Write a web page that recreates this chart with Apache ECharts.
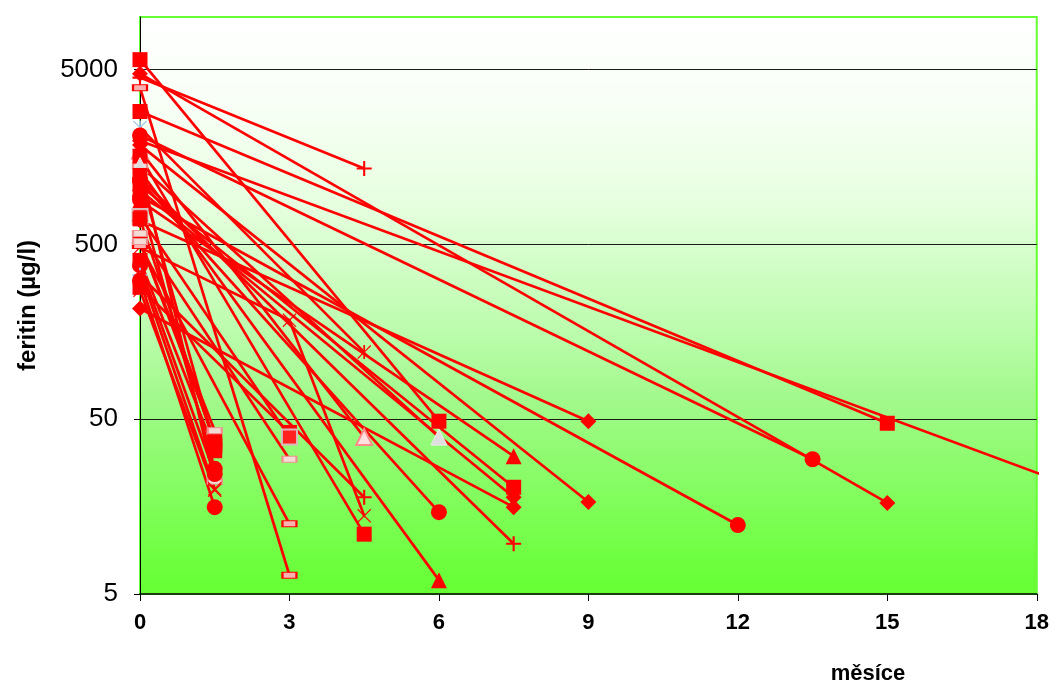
<!DOCTYPE html>
<html>
<head>
<meta charset="utf-8">
<script src="https://cdn.jsdelivr.net/npm/echarts@6/dist/echarts.min.js"></script>
<style>
html,body{margin:0;padding:0;background:#ffffff;}
#chart{width:1052px;height:684px;}
</style>
</head>
<body>
<div id="chart"></div>
<script>
// ---- data (ferritin µg/l, months) ----
const xTickMonths = [0, 3, 6, 9, 12, 15, 18];
const yTickLabels = [5, 50, 500, 5000];
const startFerritin = [5700, 4740, 4500, 3940, 2880, 2330, 1960, 2100, 1720, 1410, 284, 527, 1090, 940, 890, 723, 578, 481, 686, 1850, 405, 379, 333, 215, 1320, 311, 273, 1600, 1410, 1160, 1020, 1200, 493, 1240, 520, 700, 900, 350];
const midMonth      = [null, null, null, null, null, null, null, null, null, null, null, null, null, null, null, null, null, 3, null, null, null, null, null, null, null, null, null, null, null, null, null, null, null, null, null, null, null, null];
const midFerritin   = [null, null, null, null, null, null, null, null, null, null, null, null, null, null, null, null, null, 184, null, null, null, null, null, null, null, null, null, null, null, null, null, null, null, null, null, null, null, null];
const endMonth      = [6, 15, 4.5, 3, 15, 4.5, 21, 13.5, 4.5, 1.5, 3, 1.5, 7.5, 12, 7.5, 3, 3, 4.5, 9, 9, 1.5, 1.5, 4.5, 7.5, 6, 1.5, 1.5, 4.5, 6, 6, 7.5, 7.5, 3, 1.5, 1.5, 1.5, 1.5, 1.5];
const endFerritin   = [48.7, 16.6, 1360, 6.4, 47.4, 121, 11.9, 29.5, 39.5, 22.1, 42, 38, 20.4, 12.4, 30.7, 39.5, 29.5, 14, 48.7, 16.8, 33, 24.3, 17.9, 15.7, 6.0, 15.7, 19.6, 11, 39.5, 14.7, 17.9, 9.7, 12.6, 35, 43, 36, 26, 20];

// ---- styles (marker kinds per series) ----
const markerKinds = ['rect','diamond','plus','dash','rect','star','diamond','circle','paletri','paledash','rect','rect','rect','circle','triangle','paleRect','paledash','x','diamond','diamond','rect','circle','plus','diamond','triangle','circle','x','rect','greytri','circle','diamond','plus','dash','rect','paledash','rect','circle','x'];
const startPaleBlue = [5, 22];

const RED = '#ff0000';
const PLUS = 'path://M4.3,0H5.7V4.3H10V5.7H5.7V10H4.3V5.7H0V4.3H4.3Z';
const XMARK = 'path://M0.6,0L5,4.4L9.4,0L10,0.6L5.6,5L10,9.4L9.4,10L5,5.6L0.6,10L0,9.4L4.4,5L0,0.6Z';
const STAR = 'path://M0.6,0L4.4,3.8V0H5.6V3.8L9.4,0L10,0.6L5.6,5L10,9.4L9.4,10L5.6,6.2V10H4.4V6.2L0.6,10L0,9.4L4.4,5L0,0.6Z';

function markerStyle(kind) {
  switch (kind) {
    case 'rect': return {symbol: 'rect', symbolSize: 15, itemStyle: {color: RED}};
    case 'diamond': return {symbol: 'diamond', symbolSize: 16, itemStyle: {color: RED}};
    case 'triangle': return {symbol: 'triangle', symbolSize: 16, itemStyle: {color: RED}};
    case 'circle': return {symbol: 'circle', symbolSize: 16, itemStyle: {color: RED}};
    case 'plus': return {symbol: PLUS, symbolSize: 15, itemStyle: {color: RED}};
    case 'x': return {symbol: XMARK, symbolSize: 14, itemStyle: {color: RED}};
    case 'star': return {symbol: STAR, symbolSize: 14, itemStyle: {color: RED}};
    case 'dash': return {symbol: 'rect', symbolSize: [14, 6], itemStyle: {color: '#ffb0b0', borderColor: RED, borderWidth: 1.5}};
    case 'paledash': return {symbol: 'rect', symbolSize: [14, 6], itemStyle: {color: '#f3dcd6', borderColor: '#f09090', borderWidth: 1.5}};
    case 'paletri': return {symbol: 'triangle', symbolSize: 16, itemStyle: {color: '#fde0e0', borderColor: '#ff8a8a', borderWidth: 2}};
    case 'greytri': return {symbol: 'triangle', symbolSize: 16, itemStyle: {color: '#dedede', borderColor: '#ececec', borderWidth: 1}};
    case 'paleRect': return {symbol: 'rect', symbolSize: 15, itemStyle: {color: '#ff2020', borderColor: '#d9b9b9', borderWidth: 2}};
  }
  return {symbol: 'none'};
}

const toAxis = v => Math.log10(v / 5);

const series = startFerritin.map((s, i) => {
  const startPoint = {value: [0, toAxis(s)]};
  if (startPaleBlue.includes(i)) {
    startPoint.itemStyle = {color: '#9fc5e8'};
  }
  const pts = [startPoint];
  if (midMonth[i] !== null) pts.push({value: [midMonth[i], toAxis(midFerritin[i])]});
  pts.push({value: [endMonth[i], toAxis(endFerritin[i])]});
  const m = markerStyle(markerKinds[i]);
  return Object.assign({
    type: 'line',
    data: pts,
    clip: true,
    showAllSymbol: true,
    lineStyle: {color: RED, width: 2.7},
    emphasis: {disabled: true},
    z: 3
  }, m);
});

const chart = echarts.init(document.getElementById('chart'), null, {renderer: 'canvas'});
chart.setOption({
  animation: false,
  backgroundColor: '#ffffff',
  grid: {
    left: 140, right: 15, top: 17, bottom: 90,
    show: true,
    borderColor: '#66ff33',
    borderWidth: 2,
    backgroundColor: new echarts.graphic.LinearGradient(0, 0, 0, 1, [
      {offset: 0, color: '#ffffff'},
      {offset: 0.15, color: '#f8fff6'},
      {offset: 0.32, color: '#e7ffe0'},
      {offset: 0.54, color: '#bdfcae'},
      {offset: 0.66, color: '#a2f98c'},
      {offset: 0.94, color: '#6eff40'},
      {offset: 1, color: '#66ff33'}
    ])
  },
  xAxis: {
    type: 'value',
    min: xTickMonths[0],
    max: xTickMonths[xTickMonths.length - 1],
    interval: 3,
    axisLine: {show: true, onZero: false, lineStyle: {color: '#000000', width: 1.5}},
    axisTick: {show: true, inside: false, length: 7, lineStyle: {color: '#000000', width: 1}},
    axisLabel: {
      margin: 18,
      fontFamily: 'Liberation Sans, Arial, sans-serif',
      fontWeight: 'bold',
      fontSize: 22,
      color: '#000000',
      formatter: v => xTickMonths.includes(v) ? String(v) : ''
    },
    splitLine: {show: false}
  },
  yAxis: {
    type: 'value',
    min: 0,
    max: toAxis(10000),
    interval: 1,
    name: 'feritin (µg/l)',
    nameLocation: 'middle',
    nameGap: 100,
    nameTextStyle: {
      fontFamily: 'Liberation Sans, Arial, sans-serif',
      fontWeight: 'bold',
      fontSize: 24,
      color: '#000000'
    },
    axisLine: {show: true, onZero: false, lineStyle: {color: '#000000', width: 1}},
    axisTick: {show: true, inside: false, length: 6, lineStyle: {color: '#000000', width: 1}},
    axisLabel: {
      margin: 22,
      fontFamily: 'Liberation Sans, Arial, sans-serif',
      fontSize: 26,
      color: '#000000',
      showMaxLabel: false,
      formatter: v => {
        const k = Math.round(v);
        if (Math.abs(v - k) > 1e-6 || k >= yTickLabels.length) return '';
        return String(yTickLabels[k]);
      }
    },
    splitLine: {show: true, showMinLine: false, showMaxLine: false, lineStyle: {color: '#1a1a1a', width: 1}}
  },
  graphic: [{
    type: 'text',
    x: 868,
    y: 674,
    style: {
      text: 'měsíce',
      font: 'bold 22px "Liberation Sans", Arial, sans-serif',
      fill: '#000000',
      align: 'center',
      verticalAlign: 'middle'
    }
  }],
  series: series
});
</script>
</body>
</html>
